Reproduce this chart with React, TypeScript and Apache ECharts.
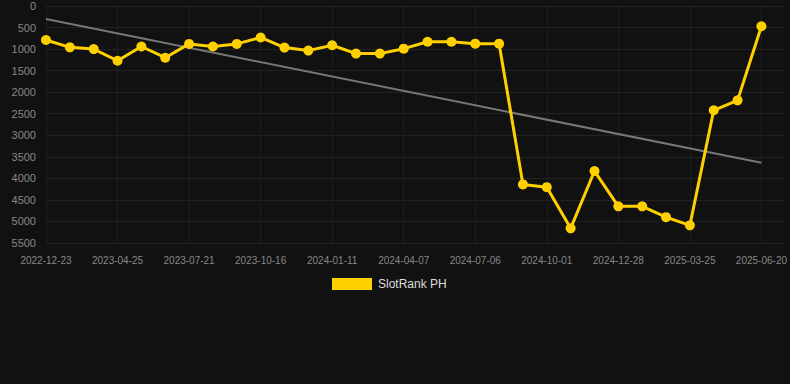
import React, { useEffect, useRef } from "react";
import * as echarts from "echarts";

const dates = [
  "2022-12-23", "2023-02-03", "2023-03-16", "2023-04-25", "2023-05-24", "2023-06-22",
  "2023-07-21", "2023-08-19", "2023-09-17", "2023-10-16", "2023-11-14", "2023-12-13",
  "2024-01-11", "2024-02-09", "2024-03-09", "2024-04-07", "2024-05-07", "2024-06-06",
  "2024-07-06", "2024-08-04", "2024-09-02", "2024-10-01", "2024-10-30", "2024-11-28",
  "2024-12-28", "2025-01-26", "2025-02-24", "2025-03-25", "2025-04-23", "2025-05-22",
  "2025-06-20", "2025-07-19",
];

const rankValues = [
  790, 960, 1000, 1270, 940, 1200, 880, 940, 880, 730, 965, 1035,
  910, 1105, 1105, 990, 830, 830, 875, 875, 4140, 4205, 5160, 3830,
  4650, 4650, 4900, 5090, 2420, 2190, 470,
];

const trendStart = 300;
const trendEnd = 3640;

const yTicks = [0, 500, 1000, 1500, 2000, 2500, 3000, 3500, 4000, 4500, 5000, 5500];

export default function App() {
  const ref = useRef<HTMLDivElement>(null);

  useEffect(() => {
    document.body.style.margin = "0";
    document.body.style.background = "#111111";
    if (!ref.current) return;
    const chart = echarts.init(ref.current, null, { renderer: "svg" });
    const lastIdx = rankValues.length - 1;
    chart.setOption({
      animation: false,
      backgroundColor: "#111111",
      grid: { left: 46, right: 3, top: 6, bottom: 141, containLabel: false },
      legend: {
        top: 278,
        left: 332,
        padding: 0,
        itemWidth: 40,
        itemHeight: 12,
        itemGap: 10,
        data: [{ name: "SlotRank PH", icon: "rect" }],
        textStyle: { color: "#dddddd", fontSize: 12, fontFamily: "Arial, Liberation Sans, sans-serif", padding: [0, 0, 0, 1] },
      },
      xAxis: {
        type: "category",
        data: dates,
        boundaryGap: false,
        axisLine: { show: false },
        axisTick: { show: false },
        axisLabel: {
          interval: 2,
          color: "#888888",
          fontSize: 10,
          margin: 12,
          fontFamily: "Arial, Liberation Sans, sans-serif",
        },
        splitLine: { show: true, interval: 2, lineStyle: { color: "#1e1e1e", width: 1 } },
      },
      yAxis: {
        type: "value",
        inverse: true,
        min: 0,
        max: 5500,
        interval: 500,
        axisLine: { show: false },
        axisTick: { show: false },
        axisLabel: {
          color: "#888888",
          fontSize: 11,
          margin: 10,
          fontFamily: "Arial, Liberation Sans, sans-serif",
          formatter: (v: number) => (yTicks.includes(v) ? String(v) : ""),
        },
        splitLine: { show: true, lineStyle: { color: "#222222", width: 1 } },
      },
      series: [
        {
          name: "Trend",
          type: "line",
          data: [
            [0, trendStart],
            [lastIdx, trendEnd],
          ],
          showSymbol: false,
          symbol: "none",
          lineStyle: { color: "#777777", width: 2 },
          silent: true,
          z: 1,
        },
        {
          name: "SlotRank PH",
          type: "line",
          data: rankValues,
          symbol: "circle",
          symbolSize: 10,
          itemStyle: { color: "#ffd000" },
          lineStyle: { color: "#ffd000", width: 3 },
          z: 2,
        },
      ],
    });
    return () => chart.dispose();
  }, []);

  return <div ref={ref} style={{ width: 790, height: 384, background: "#111111" }} />;
}
